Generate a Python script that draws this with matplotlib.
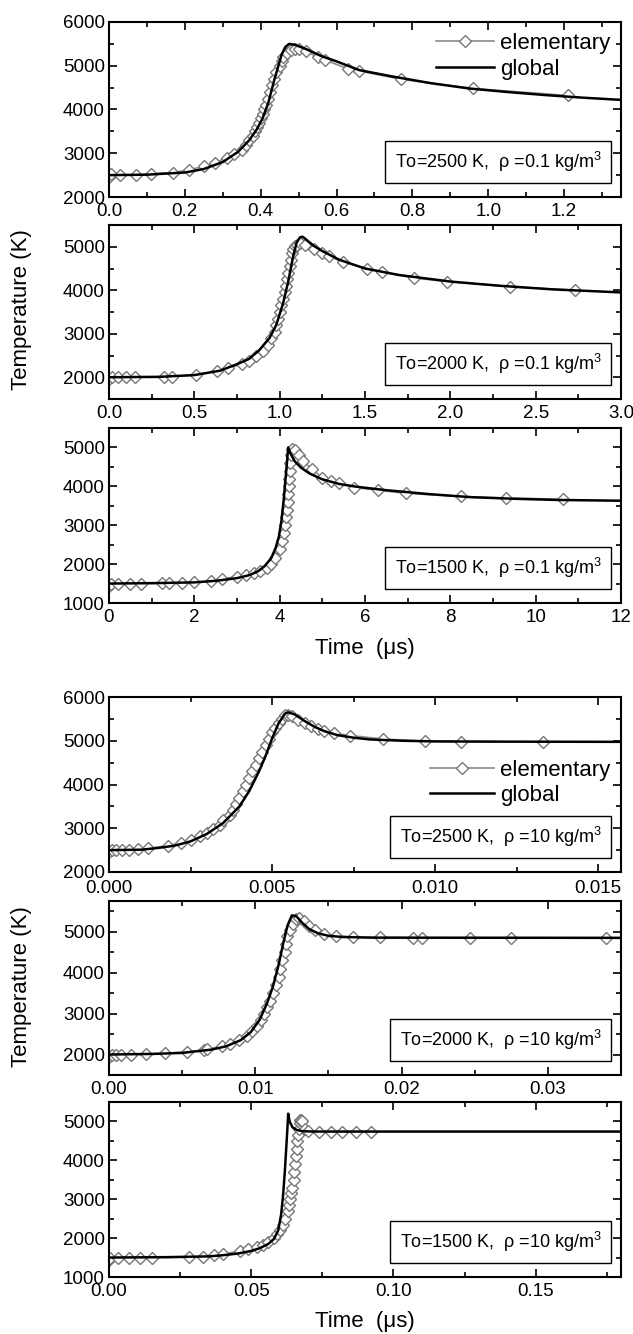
import matplotlib
matplotlib.use("Agg")
import matplotlib.pyplot as plt
from matplotlib.ticker import MultipleLocator, FormatStrFormatter

plt.rcParams['font.family'] = ['Liberation Sans', 'DejaVu Sans']
plt.rcParams['mathtext.fontset'] = 'custom'
plt.rcParams['mathtext.rm'] = 'Liberation Sans'

# ---- data (time in microseconds, temperature in K) ----
# panel 1: To=2500 K, rho=0.1
p1_elem_t = [0.0, 0.005, 0.03, 0.07, 0.11, 0.17, 0.21, 0.25, 0.28, 0.31, 0.33, 0.35, 0.36, 0.37,
             0.38, 0.385, 0.39, 0.395, 0.40, 0.405, 0.41, 0.415, 0.42, 0.425, 0.43, 0.435, 0.44,
             0.45, 0.455, 0.46, 0.47, 0.48, 0.49, 0.50, 0.52, 0.55, 0.57, 0.63, 0.66, 0.77, 0.96, 1.21]
p1_elem_T = [2450, 2520, 2500, 2500, 2530, 2560, 2620, 2700, 2780, 2900, 2980, 3080, 3200, 3300,
             3400, 3500, 3600, 3700, 3800, 3900, 4000, 4100, 4250, 4400, 4550, 4700, 4850,
             5000, 5100, 5200, 5300, 5350, 5380, 5380, 5330, 5200, 5130, 4930, 4880, 4690, 4480, 4320]
p1_glob_t = [0.0, 0.1, 0.2, 0.25, 0.30, 0.34, 0.37, 0.39, 0.405, 0.42, 0.435, 0.445, 0.455, 0.465,
             0.475, 0.49, 0.52, 0.56, 0.60, 0.66, 0.75, 0.85, 0.95, 1.05, 1.15, 1.25, 1.35]
p1_glob_T = [2500, 2510, 2560, 2640, 2800, 3030, 3300, 3550, 3800, 4150, 4650, 4950, 5250, 5430,
             5500, 5480, 5380, 5220, 5100, 4900, 4750, 4600, 4480, 4400, 4330, 4270, 4220]

# panel 2: To=2000 K, rho=0.1
p2_elem_t = [0.0, 0.02, 0.05, 0.1, 0.15, 0.32, 0.37, 0.51, 0.63, 0.70, 0.78, 0.82, 0.86, 0.90,
             0.93, 0.95, 0.97, 0.98, 0.99, 1.00, 1.01, 1.02, 1.03, 1.04, 1.045, 1.05, 1.06, 1.065,
             1.07, 1.08, 1.09, 1.10, 1.12, 1.15, 1.20, 1.25, 1.29, 1.37, 1.51, 1.60, 1.79, 1.98,
             2.35, 2.73]
p2_elem_T = [1950, 2000, 2000, 2000, 2000, 2000, 2010, 2060, 2140, 2220, 2300, 2380, 2480, 2600,
             2750, 2900, 3050, 3200, 3350, 3500, 3650, 3800, 3950, 4100, 4250, 4400, 4550, 4700,
             4850, 4950, 5020, 5050, 5080, 5050, 4950, 4850, 4780, 4650, 4500, 4420, 4280, 4200,
             4080, 4000]
p2_glob_t = [0.0, 0.3, 0.5, 0.65, 0.75, 0.82, 0.88, 0.94, 0.98, 1.02, 1.05, 1.08, 1.10, 1.12,
             1.135, 1.16, 1.20, 1.25, 1.35, 1.5, 1.7, 2.0, 2.3, 2.6, 3.0]
p2_glob_T = [2000, 2010, 2050, 2150, 2300, 2420, 2620, 2900, 3200, 3700, 4200, 4800, 5100, 5220,
             5230, 5150, 5020, 4900, 4700, 4500, 4350, 4200, 4100, 4020, 3950]

# panel 3: To=1500 K, rho=0.1
p3_elem_t = [0.0, 0.05, 0.2, 0.5, 0.75, 1.25, 1.4, 1.7, 2.0, 2.4, 2.65, 3.0, 3.2, 3.4, 3.55,
             3.7, 3.8, 3.9, 4.0, 4.05, 4.1, 4.12, 4.15, 4.17, 4.19, 4.2, 4.22, 4.23, 4.24, 4.25,
             4.27, 4.3, 4.35, 4.45, 4.55, 4.75, 5.0, 5.2, 5.4, 5.75, 6.3, 6.95, 8.25, 9.3, 10.65]
p3_elem_T = [1450, 1500, 1500, 1500, 1500, 1510, 1510, 1520, 1530, 1570, 1620, 1680, 1720, 1770,
             1820, 1900, 2000, 2150, 2400, 2600, 2800, 3000, 3200, 3400, 3600, 3800, 4000, 4200,
             4400, 4600, 4800, 4950, 4930, 4800, 4650, 4450, 4220, 4150, 4080, 3970, 3900, 3820,
             3740, 3700, 3670]
p3_glob_t = [0.0, 1.0, 2.0, 2.5, 3.0, 3.3, 3.5, 3.65, 3.8, 3.9, 3.98, 4.04, 4.09, 4.13, 4.17,
             4.2, 4.25, 4.35, 4.5, 4.7, 5.0, 5.4, 5.8, 6.5, 7.5, 8.5, 9.5, 10.5, 12.0]
p3_glob_T = [1500, 1510, 1530, 1570, 1640, 1720, 1820, 1950, 2150, 2400, 2700, 3100, 3600, 4100,
             4600, 5000, 4850, 4650, 4480, 4330, 4180, 4060, 3990, 3900, 3800, 3720, 3680, 3650, 3630]

# panel 4: To=2500 K, rho=10
p4_elem_t = [0.0, 0.0001, 0.0002, 0.0004, 0.0006, 0.0009, 0.0012, 0.0018, 0.0022, 0.0025, 0.0028,
             0.0030, 0.0032, 0.0034, 0.0035, 0.0037, 0.0038, 0.0039, 0.0040, 0.0041, 0.0042,
             0.0043, 0.0044, 0.0045, 0.0046, 0.0047, 0.0048, 0.0049, 0.0050, 0.0051, 0.0052,
             0.0053, 0.0054, 0.0055, 0.0056, 0.0058, 0.0060, 0.0062, 0.0064, 0.0066, 0.0069,
             0.0074, 0.0084, 0.0097, 0.0108, 0.0133]
p4_elem_T = [2450, 2500, 2500, 2500, 2500, 2520, 2540, 2600, 2670, 2740, 2820, 2900, 2980, 3080,
             3180, 3300, 3420, 3560, 3700, 3850, 4000, 4150, 4300, 4450, 4600, 4750, 4900, 5050,
             5200, 5300, 5400, 5500, 5580, 5600, 5570, 5480, 5400, 5330, 5260, 5220, 5170, 5120,
             5040, 4990, 4980, 4970]
p4_glob_t = [0.0, 0.001, 0.0015, 0.002, 0.0025, 0.003, 0.0035, 0.004, 0.0043, 0.0046, 0.0048,
             0.0050, 0.0052, 0.0054, 0.0055, 0.0057, 0.0060, 0.0063, 0.0066, 0.0070, 0.0075,
             0.0080, 0.0090, 0.0100, 0.0120, 0.0157]
p4_glob_T = [2500, 2510, 2550, 2600, 2700, 2870, 3120, 3500, 3850, 4300, 4650, 5050, 5400, 5620,
             5650, 5600, 5450, 5320, 5220, 5130, 5070, 5030, 5000, 4985, 4980, 4975]

# panel 5: To=2000 K, rho=10
p5_elem_t = [0.0, 0.0002, 0.0005, 0.0008, 0.0015, 0.0025, 0.0038, 0.0053, 0.0065, 0.0067, 0.0077,
             0.0083, 0.0089, 0.0094, 0.0098, 0.0101, 0.0104, 0.0106, 0.0108, 0.0110, 0.0112,
             0.0114, 0.0116, 0.0117, 0.0118, 0.0120, 0.0121, 0.0122, 0.0124, 0.0126, 0.0128,
             0.0130, 0.0133, 0.0137, 0.0141, 0.0147, 0.0155, 0.0167, 0.0185, 0.0208, 0.0214,
             0.0247, 0.0275, 0.0340]
p5_elem_T = [1950, 2000, 2000, 2000, 2000, 2010, 2030, 2060, 2110, 2130, 2200, 2260, 2350, 2450,
             2570, 2700, 2850, 3000, 3150, 3300, 3500, 3700, 3900, 4100, 4300, 4500, 4700, 4900,
             5050, 5200, 5300, 5330, 5250, 5150, 5050, 4950, 4900, 4870, 4860, 4850, 4850, 4850,
             4850, 4850]
p5_glob_t = [0.0, 0.003, 0.005, 0.007, 0.008, 0.009, 0.0097, 0.0103, 0.0108, 0.0112, 0.0116,
             0.0119, 0.0122, 0.0125, 0.0128, 0.0132, 0.0137, 0.0143, 0.0150, 0.0160, 0.0180, 0.035]
p5_glob_T = [2000, 2015, 2040, 2120, 2200, 2350, 2550, 2850, 3250, 3650, 4200, 4700, 5150, 5400,
             5380, 5220, 5060, 4960, 4900, 4870, 4855, 4850]

# panel 6: To=1500 K, rho=10
p6_elem_t = [0.0, 0.0005, 0.003, 0.007, 0.011, 0.015, 0.028, 0.033, 0.037, 0.040, 0.046, 0.049,
             0.052, 0.054, 0.056, 0.058, 0.059, 0.060, 0.061, 0.062, 0.0628, 0.0633, 0.0638,
             0.0640, 0.0645, 0.0650, 0.0652, 0.0655, 0.0658, 0.0660, 0.0662, 0.0665, 0.0668,
             0.0670, 0.0672, 0.0675, 0.0680, 0.0690, 0.0700, 0.0740, 0.0780, 0.0820, 0.0870, 0.0920]
p6_elem_T = [1450, 1500, 1500, 1500, 1500, 1500, 1510, 1520, 1560, 1600, 1660, 1720, 1780, 1830,
             1900, 2000, 2100, 2200, 2350, 2500, 2700, 2850, 3000, 3150, 3300, 3500, 3700, 3900,
             4100, 4300, 4500, 4650, 4800, 4950, 5050, 5050, 5000, 4800, 4750, 4740, 4740, 4740,
             4740, 4740]
p6_glob_t = [0.0, 0.02, 0.035, 0.040, 0.045, 0.050, 0.053, 0.056, 0.058, 0.0595, 0.0605, 0.0612,
             0.0618, 0.0623, 0.0627, 0.0630, 0.0635, 0.0645, 0.0660, 0.0680, 0.0720, 0.18]
p6_glob_T = [1500, 1510, 1530, 1560, 1600, 1670, 1740, 1850, 1980, 2200, 2600, 3100, 3700, 4300,
             4800, 5200, 5000, 4850, 4780, 4750, 4740, 4740]

labels = ["To=2500 K,  \u03c1 =0.1 kg/m$^3$", "To=2000 K,  \u03c1 =0.1 kg/m$^3$",
          "To=1500 K,  \u03c1 =0.1 kg/m$^3$", "To=2500 K,  \u03c1 =10 kg/m$^3$",
          "To=2000 K,  \u03c1 =10 kg/m$^3$", "To=1500 K,  \u03c1 =10 kg/m$^3$"]

W, H = 633, 1334
fig = plt.figure(figsize=(W / 100, H / 100), dpi=100)

# (top px, bottom px, xmax, xmajor, xfmt, xpad, ymin, ymax, data...)
panels = [
    (22, 197, 1.35, 0.2, '%.1f', 4.5, 2000, 6000, p1_elem_t, p1_elem_T, p1_glob_t, p1_glob_T),
    (225, 399, 3.0, 0.5, '%.1f', 4.5, 1500, 5500, p2_elem_t, p2_elem_T, p2_glob_t, p2_glob_T),
    (428, 603, 12, 2, '%d', 4.5, 1000, 5500, p3_elem_t, p3_elem_T, p3_glob_t, p3_glob_T),
    (697, 872, 0.0157, 0.005, '%.3f', 6.0, 2000, 6000, p4_elem_t, p4_elem_T, p4_glob_t, p4_glob_T),
    (901, 1075, 0.035, 0.01, '%.2f', 4.5, 1500, 5750, p5_elem_t, p5_elem_T, p5_glob_t, p5_glob_T),
    (1102, 1277, 0.18, 0.05, '%.2f', 4.5, 1000, 5500, p6_elem_t, p6_elem_T, p6_glob_t, p6_glob_T),
]

left, right = 109, 621
axes = []
for i, (top, bot, xmax, xmaj, xfmt, xpad, ymin, ymax, et, eT, gt, gT) in enumerate(panels):
    ax = fig.add_axes([left / W, 1 - bot / H, (right - left) / W, (bot - top) / H])
    ax.plot(et, eT, color='#8a8a8a', lw=1.2, marker='D', ms=6.6, mfc='white',
            mec='#777777', mew=1.0, label='elementary', zorder=2)
    ax.plot(gt, gT, color='black', lw=1.8, label='global', zorder=3)
    ax.set_xlim(0, xmax)
    ax.set_ylim(ymin, ymax)
    ax.xaxis.set_major_locator(MultipleLocator(xmaj))
    ax.xaxis.set_minor_locator(MultipleLocator(xmaj / 2))
    ax.xaxis.set_major_formatter(FormatStrFormatter(xfmt))
    ax.yaxis.set_major_locator(MultipleLocator(1000))
    ax.yaxis.set_minor_locator(MultipleLocator(500))
    ax.tick_params(which='both', direction='in', top=True, right=True, labelsize=13.5, width=1.2)
    ax.tick_params(which='major', length=6, pad=3)
    ax.tick_params(axis='x', which='major', pad=xpad)
    ax.tick_params(which='minor', length=3.5)
    for s in ax.spines.values():
        s.set_linewidth(1.5)
    ax.text(0.962, 0.13, labels[i], transform=ax.transAxes, ha='right', va='bottom',
            fontsize=13, zorder=5,
            bbox=dict(boxstyle='square,pad=0.5', fc='white', ec='black', lw=1.0))
    axes.append(ax)

axes[0].legend(loc='upper right', bbox_to_anchor=(1.0, 1.0), frameon=False, fontsize=16,
               handlelength=2.6, handletextpad=0.25, labelspacing=0.2, borderaxespad=0.1)
axes[3].legend(loc='center right', bbox_to_anchor=(1.0, 0.51), frameon=False, fontsize=16,
               handlelength=2.9, handletextpad=0.25, labelspacing=0.2, borderaxespad=0.1)

fig.text(22 / W, 1 - 310 / H, 'Temperature (K)', rotation=90, ha='center', va='center', fontsize=16)
fig.text(22 / W, 1 - 987 / H, 'Temperature (K)', rotation=90, ha='center', va='center', fontsize=16)
fig.text((left + right) / 2 / W, 1 - 648 / H, 'Time  (\u03bcs)', ha='center', va='center', fontsize=16)
fig.text((left + right) / 2 / W, 1 - 1321 / H, 'Time  (\u03bcs)', ha='center', va='center', fontsize=16)

fig.savefig('out.png', dpi=100)
